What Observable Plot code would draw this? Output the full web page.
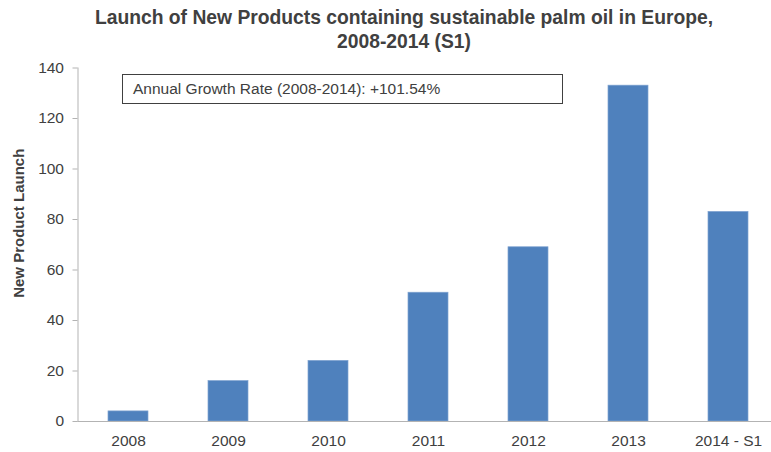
<!DOCTYPE html>
<html>
<head>
<meta charset="utf-8">
<script src="https://cdn.jsdelivr.net/npm/d3@7"></script>
<script src="https://cdn.jsdelivr.net/npm/@observablehq/plot@0.6"></script>
<style>
  html, body { margin: 0; padding: 0; background: #fff; }
  #wrap { position: relative; width: 771px; height: 452px; font-family: "Liberation Sans", Arial, sans-serif; }
  #title { position: absolute; left: 0; width: 808px; top: 6px; text-align: center; font-weight: bold; font-size: 19.3px; line-height: 24px; color: #404040; }
  #note { position: absolute; left: 122px; top: 74px; width: 441px; height: 30px; border: 1px solid #404040; box-sizing: border-box; font-size: 15.5px; color: #404040; padding: 5px 0 0 10px; }
  svg { position: absolute; left: 0; top: 0; }
</style>
</head>
<body>
<div id="wrap">
  <div id="chart"></div>
  <div id="title">Launch of New Products containing sustainable palm oil in Europe,<br>2008-2014 (S1)</div>
  <div id="note">Annual Growth Rate (2008-2014): +101.54%</div>
</div>
<script>
const categories = ["2008", "2009", "2010", "2011", "2012", "2013", "2014 - S1"];
const launches = [4, 16, 24, 51, 69, 133, 83];
const yTicks = [0, 20, 40, 60, 80, 100, 120, 140];
const yLabel = "New Product Launch";

const data = categories.map((c, i) => ({category: c, value: launches[i]}));

const chart = Plot.plot({
  width: 771,
  height: 452,
  marginTop: 67.5,
  marginBottom: 31,
  marginLeft: 77.5,
  marginRight: 0,
  style: {fontFamily: "'Liberation Sans', Arial, sans-serif", fontSize: "15.5px", color: "#404040", background: "#fff"},
  x: {domain: categories, range: [77.5, 777.5], paddingInner: 0.6, paddingOuter: 0.3},
  y: {domain: [0, 140]},
  marks: [
    Plot.barY(data, {x: "category", y: "value", fill: "#4f81bd", stroke: "#7fa3d0", strokeWidth: 0.7}),
    Plot.frame({anchor: "left", stroke: "#b3b3b3"}),
    Plot.ruleY([0], {stroke: "#b3b3b3", strokeWidth: 1.2}),
    Plot.axisY({ticks: yTicks, tickSize: 5, tickPadding: 9, stroke: "#b3b3b3", fill: "#404040", label: null, fontSize: 15.5}),
    Plot.axisX({tickSize: 0, tickPadding: 13, label: null, fill: "#404040", fontSize: 15.5}),
    Plot.text([yLabel], {text: d => d, frameAnchor: "left", textAnchor: "middle", dx: -59, dy: -21.5, rotate: -90, fontWeight: "bold", fontSize: 15, fill: "#404040"})
  ]
});
document.getElementById("chart").appendChild(chart);
</script>
</body>
</html>
